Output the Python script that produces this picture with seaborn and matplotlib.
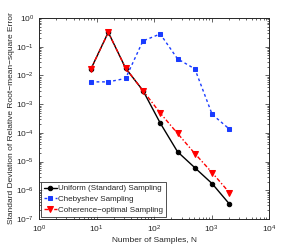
import matplotlib
matplotlib.use("Agg")
import matplotlib.pyplot as plt
import seaborn as sns
import pandas as pd
import numpy as np

N = [8, 16, 32, 64, 128, 256, 512, 1024, 2048]
uniform = [1.7e-2, 0.32, 1.8e-2, 3.0e-3, 2.2e-4, 2.2e-5, 6.1e-6, 1.7e-6, 3.3e-7]
chebyshev = [6.0e-3, 6.0e-3, 7.9e-3, 0.16, 0.28, 0.038, 0.017, 4.4e-4, 1.35e-4]
coherence = [1.7e-2, 0.32, 1.8e-2, 3.0e-3, 4.9e-4, 9.6e-5, 1.9e-5, 4.1e-6, 8.2e-7]
labels = ["Uniform (Standard) Sampling", "Chebyshev Sampling", "Coherence\u2212optimal Sampling"]

sns.set_style("ticks")
plt.rcParams['font.family'] = ['Liberation Sans', 'DejaVu Sans']
plt.rcParams['mathtext.fontset'] = 'custom'
plt.rcParams['mathtext.rm'] = 'Liberation Sans'

fig = plt.figure(figsize=(2.98, 2.48), dpi=100)
ax = fig.add_axes([0.131, 0.117, 0.772, 0.810])

df = pd.DataFrame({"N": N * 3,
                   "err": uniform + chebyshev + coherence,
                   "method": [labels[0]] * 9 + [labels[1]] * 9 + [labels[2]] * 9})

styles = [("-", "o", "black", 3.2), ((0, (2, 2)), "s", "#1a3cff", 3.2), ((0, (3, 1.5, 1, 1.5)), "v", "red", 4)]
for lab, (ls, mk, c, ms) in zip(labels, styles):
    sub = df[df.method == lab]
    sns.lineplot(data=sub, x="N", y="err", ax=ax, color=c, linestyle=ls, marker=mk,
                 markersize=ms, markeredgecolor=c, linewidth=1.0, label=lab)

ax.set_xscale("log")
ax.set_yscale("log")
ax.set_xlim(1, 1e4)
ax.set_ylim(1e-7, 1)
ax.set_xticks([1, 10, 100, 1000, 10000])
ax.set_yticks([10.0**k for k in range(-7, 1)])
ax.tick_params(which="both", direction="in", top=True, right=True, labelsize=6, width=0.5)
ax.tick_params(which="major", length=3)
ax.tick_params(which="minor", length=1.5)
for s in ax.spines.values():
    s.set_linewidth(0.7)
ax.set_xlabel("Number of Samples, N", fontsize=6, labelpad=1)
ax.set_ylabel("Standard Deviation of Relative Root\u2212mean\u2212square Error", fontsize=6, labelpad=1)
ax.grid(False)
leg = ax.legend(loc="lower left", fontsize=5.8, frameon=True, fancybox=False, edgecolor="black",
                handlelength=1.6, borderpad=0.3, labelspacing=0.4, handletextpad=0.2,
                borderaxespad=0.3)
leg.get_frame().set_linewidth(0.6)
fig.savefig("out.png", dpi=100)
